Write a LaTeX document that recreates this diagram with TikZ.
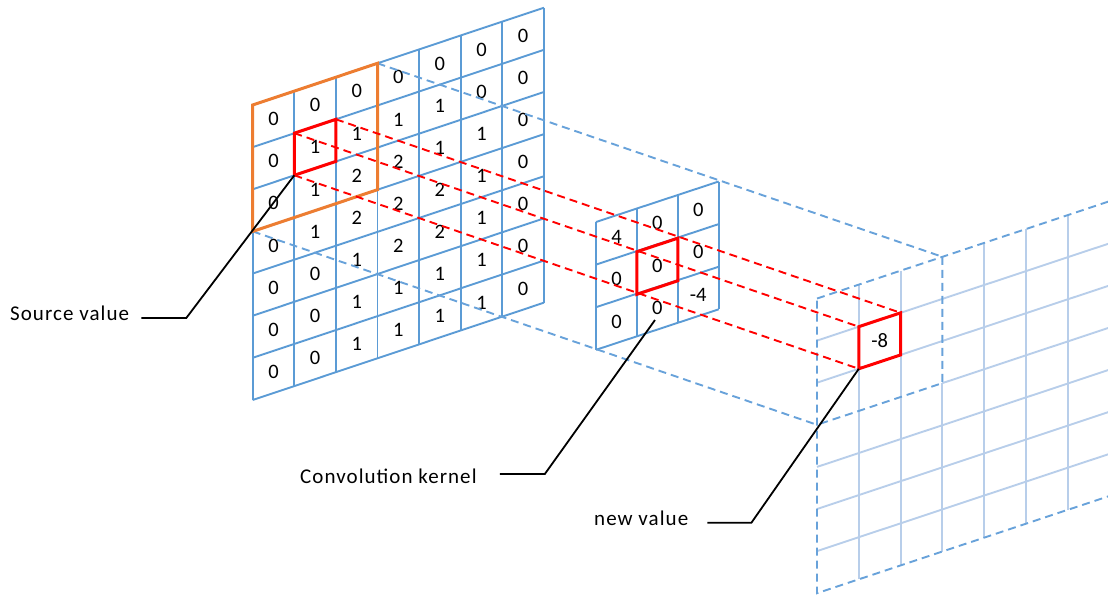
\documentclass[tikz,border=0pt]{standalone}
\usepackage{fontspec}
\setmainfont{Carlito}
\newfontfamily\lblfont[LetterSpace=5]{Carlito}
\definecolor{gridblue}{RGB}{91,155,213}
\definecolor{dashblue}{RGB}{104,162,218}
\definecolor{lightblue}{RGB}{184,206,234}
\definecolor{orng}{RGB}{237,125,49}
\definecolor{redc}{RGB}{255,0,0}
\begin{document}
\begin{tikzpicture}[x=1pt,y=-1pt,
  gridline/.style={draw=gridblue,line width=1.9pt},
  lightline/.style={draw=lightblue,line width=1.9pt},
  bluedash/.style={draw=dashblue,line width=1.9pt,dash pattern=on 8pt off 5pt},
  reddash/.style={draw=redc,line width=1.9pt,dash pattern=on 8pt off 5pt},
  redbox/.style={draw=redc,line width=3pt,line join=miter},
  orangebox/.style={draw=orng,line width=3pt,line join=miter},
  leader/.style={draw=black,line width=1.8pt},
  num/.style={inner sep=0pt,font=\fontsize{20.5}{24}\selectfont},
  lbl/.style={inner sep=0pt,font=\lblfont\fontsize{21}{25}\selectfont}]
\useasboundingbox (0,0) rectangle (1108,595);
\clip (0,0) rectangle (1108,595);

% ---------- output feature map ----------
\foreach \c in {1,2,4,5,6}
  \draw[lightline] ({817+41.8*\c},{298.5-13.9*\c}) -- ++(0,294.7);
\draw[lightline] ({817+41.8*3},{298.5-13.9*3+42.1*3}) -- ++(0,{42.1*4});
\foreach \r in {1,2,4,5,6}
  \draw[lightline] (817,{298.5+42.1*\r}) -- ++({41.8*7},{-13.9*7});
\draw[lightline] ({817+41.8*3},{298.5+42.1*3-13.9*3}) -- ++({41.8*4},{-13.9*4});
\draw[bluedash] (817,298.5) -- ++({41.8*7},{-13.9*7}) -- ++(0,294.7)
  -- ++({-41.8*7},{13.9*7}) -- cycle;
\coordinate (oTR3) at ({817+41.8*3},{298.5-13.9*3});
\coordinate (oBL3) at (817,{298.5+42.1*3});
\draw[bluedash] (oTR3) -- ++(0,{42.1*3}) -- (oBL3);

% ---------- kernel ----------
\foreach \c in {0,...,3}
  \draw[gridline] ({596+40.9*\c},{222-13.5*\c}) -- ++(0,127.8);
\foreach \r in {0,...,3}
  \draw[gridline] (596,{222+42.6*\r}) -- ++({40.9*3},{-13.5*3});
\foreach \row [count=\r from 0] in {{4,0,0},{0,0,0},{0,0,-4}}
  \foreach \v [count=\c from 0] in \row
    \node[num] (k-\r-\c) at ({616.45+40.9*\c},{236.5-13.5*\c+42.6*\r}) {\v};

% ---------- source image ----------
\foreach \c in {0,...,7}
  \draw[gridline] ({252.7+41.6*\c},{105-13.9*\c}) -- ++(0,295);
\foreach \r in {0,...,7}
  \draw[gridline] (252.7,{105+42.14*\r}) -- ++({41.6*7},{-13.9*7});
\foreach \row [count=\r from 0] in {
    {0,0,0,0,0,0,0},
    {0,1,1,1,1,0,0},
    {0,1,2,2,1,1,0},
    {0,1,2,2,2,1,0},
    {0,0,1,2,2,1,0},
    {0,0,1,1,1,1,0},
    {0,0,1,1,1,1,0}}
  \foreach \v [count=\c from 0] in \row
    \node[num] (s-\r-\c) at ({273.5+41.6*\c},{119.1-13.9*\c+42.14*\r}) {\v};

% ---------- projection lines (blue) ----------
\coordinate (orTR) at ({252.7+41.6*3},{105-13.9*3});
\coordinate (orBL) at (252.7,{105+42.14*3});
\draw[bluedash] (orTR) -- (oTR3);
\draw[bluedash] (orBL) -- (oBL3);

% ---------- orange receptive field ----------
\draw[orangebox] (252.7,105) -- (orTR) -- ++(0,{42.14*3}) -- (orBL) -- cycle;

% ---------- red cells ----------
\coordinate (sTL) at (294.3,133.2);
\coordinate (sTR) at (335.9,119.3);
\coordinate (sBR) at (335.9,161.4);
\coordinate (sBL) at (294.3,175.3);
\coordinate (kTL) at (636.9,251.7);
\coordinate (kTR) at (677.8,238.2);
\coordinate (kBR) at (677.8,280.8);
\coordinate (kBL) at (636.9,294.3);
\coordinate (oTL) at (858.8,326.7);
\coordinate (oTR) at (900.6,312.8);
\coordinate (oBR) at (900.6,354.9);
\coordinate (oBL) at (858.8,368.8);
\draw[redbox] (sTL) -- (sTR) -- (sBR) -- (sBL) -- cycle;
\draw[redbox] (kTL) -- (kTR) -- (kBR) -- (kBL) -- cycle;
\draw[redbox] (oTL) -- (oTR) -- (oBR) -- (oBL) -- cycle;
\node[num] (outval) at (879.7,340.8) {-8};
\draw[reddash] (sTR) -- (oTR);
\draw[reddash] (sTL) -- (oTL);
\draw[reddash] (sBL) -- (oBL);

% ---------- labels and leaders ----------
\node[lbl,anchor=base west] (lblSrc) at (10,320.5) {Source value};
\node[lbl,anchor=base west] (lblKer) at (300,483) {Convolution kernel};
\node[lbl,anchor=base west] (lblNew) at (594,525.7) {new value};
\coordinate (kLead) at (655,320);
\draw[leader] ([shift={(12,-2.5)}]lblSrc.base east) -- ++(45,0) -- (sBL);
\draw[leader] ([shift={(23,-9)}]lblKer.base east) -- ++(45,0) -- (kLead);
\draw[leader] ([shift={(19,-3)}]lblNew.base east) -- ++(44,0) -- (oBL);
\end{tikzpicture}
\end{document}
